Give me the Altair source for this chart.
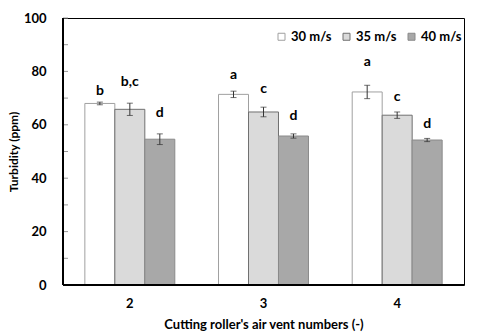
import altair as alt
import pandas as pd

vents = ["2", "3", "4"]
speeds = ["30 m/s", "35 m/s", "40 m/s"]
turb_30 = [68.0, 71.4, 72.3]
turb_35 = [65.8, 64.8, 63.6]
turb_40 = [54.6, 55.8, 54.3]
err_30 = [0.5, 1.2, 2.5]
err_35 = [2.3, 1.8, 1.2]
err_40 = [2.0, 0.8, 0.6]
letters_30 = ["b", "a", "a"]
letters_35 = ["b,c", "c", "c"]
letters_40 = ["d", "d", "d"]
letter_y_30 = [72.7, 78.7, 83.5]
letter_y_35 = [76.0, 73.4, 70.4]
letter_y_40 = [64.4, 63.3, 60.3]
y_ticks = [0, 10, 20, 30, 40, 50, 60, 70, 80, 90, 100]

rows = []
for i, v in enumerate(vents):
    for s, vals, errs, lets, ly in [
        (speeds[0], turb_30, err_30, letters_30, letter_y_30),
        (speeds[1], turb_35, err_35, letters_35, letter_y_35),
        (speeds[2], turb_40, err_40, letters_40, letter_y_40),
    ]:
        rows.append({"vent": v, "speed": s, "value": vals[i],
                     "lo": vals[i] - errs[i], "hi": vals[i] + errs[i],
                     "label": lets[i], "ly": ly[i]})
df = pd.DataFrame(rows)
ticks_df = pd.DataFrame({"t": y_ticks})

FONT = "Lato"
fills = ["#ffffff", "#dadada", "#a8a8a8"]
strokes = ["#a0a0a0", "#707070", "#8a8a8a"]

x_enc = alt.X("vent:N", sort=vents,
              scale=alt.Scale(paddingInner=0.327, paddingOuter=0.1635),
              axis=alt.Axis(title="Cutting roller's air vent numbers (-)", labelAngle=0,
                            tickSize=0, domain=False, labelPadding=12,
                            labelFont=FONT, labelFontSize=13, labelFontWeight="bold",
                            labelColor="black", titleFont=FONT, titleFontSize=13,
                            titleFontWeight="bold", titleColor="black", titlePadding=8))
xo = alt.XOffset("speed:N", sort=speeds, scale=alt.Scale(paddingInner=0, paddingOuter=0))
y_scale = alt.Scale(domain=[0, 100], nice=False)

bars = alt.Chart(df).mark_bar(strokeWidth=1).encode(
    x=x_enc,
    xOffset=xo,
    y=alt.Y("value:Q", scale=y_scale,
            axis=alt.Axis(title="Turbidity (ppm)", values=[0, 20, 40, 60, 80, 100],
                          tickSize=0, domain=False, grid=False, labelPadding=17,
                          labelFont=FONT, labelFontSize=13, labelFontWeight="bold",
                          labelColor="black", titleFont=FONT, titleFontSize=12,
                          titleFontWeight="bold", titleColor="black", titlePadding=3)),
    fill=alt.Fill("speed:N", sort=speeds,
                  scale=alt.Scale(domain=speeds, range=fills),
                  legend=alt.Legend(title=None, orient="none", direction="horizontal",
                                    legendX=212, legendY=12, symbolType="square",
                                    symbolSize=49, symbolStrokeWidth=1,
                                    labelFont=FONT, labelFontSize=13,
                                    labelFontWeight="bold", labelColor="black",
                                    columnPadding=8, labelOffset=3, padding=0)),
    stroke=alt.Stroke("speed:N", sort=speeds,
                      scale=alt.Scale(domain=speeds, range=strokes), legend=None),
)

err = alt.Chart(df).mark_rule(color="#333333", strokeWidth=1).encode(
    x=alt.X("vent:N", sort=vents), xOffset=xo,
    y=alt.Y("lo:Q", scale=y_scale), y2="hi:Q")
cap_lo = alt.Chart(df).mark_tick(color="#333333", thickness=1, size=6, orient="horizontal").encode(
    x=alt.X("vent:N", sort=vents), xOffset=xo, y=alt.Y("lo:Q", scale=y_scale))
cap_hi = alt.Chart(df).mark_tick(color="#333333", thickness=1, size=6, orient="horizontal").encode(
    x=alt.X("vent:N", sort=vents), xOffset=xo, y=alt.Y("hi:Q", scale=y_scale))

text = alt.Chart(df).mark_text(font=FONT, fontSize=14, fontWeight="bold", color="black",
                               baseline="middle").encode(
    x=alt.X("vent:N", sort=vents), xOffset=xo,
    y=alt.Y("ly:Q", scale=y_scale), text="label:N")

yticks = alt.Chart(ticks_df).mark_rule(color="#999999", strokeWidth=1).encode(
    y=alt.Y("t:Q", scale=y_scale), x=alt.value(0), x2=alt.value(5))

left_axis = alt.Chart(ticks_df).mark_rule(color="black", strokeWidth=2).encode(
    x=alt.value(0), y=alt.value(0), y2=alt.value(267))
bottom_axis = alt.Chart(ticks_df).mark_rule(color="black", strokeWidth=2).encode(
    x=alt.value(0), x2=alt.value(401), y=alt.value(267))

chart = alt.layer(bars, err, cap_lo, cap_hi, text, yticks, left_axis, bottom_axis).properties(
    width=401, height=267,
    autosize=alt.AutoSizeParams(type="none"),
    padding={"left": 63, "top": 18, "right": 15, "bottom": 51},
    background="white",
).configure_view(stroke="black", strokeWidth=1)

chart.save("out.html", embed_options={"renderer": "svg", "actions": False})
